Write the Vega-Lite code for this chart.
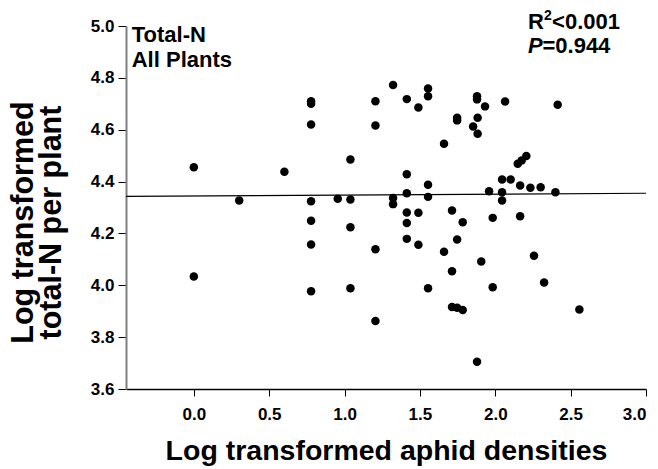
{
  "$schema": "https://vega.github.io/schema/vega-lite/v6.json",
  "width": 520,
  "height": 363,
  "autosize": {"type": "none"},
  "padding": {"left": 126, "top": 26, "right": 12, "bottom": 80},
  "background": "white",
  "config": {"view": {"stroke": null}, "font": "Liberation Sans"},
  "datasets": {
    "pts": [
      {"x": 0.000, "y": 4.455}, {"x": 0.000, "y": 4.034}, {"x": 0.301, "y": 4.327}, {"x": 0.601, "y": 4.438},
      {"x": 0.778, "y": 4.710}, {"x": 0.778, "y": 4.700}, {"x": 0.778, "y": 4.620}, {"x": 0.778, "y": 4.324},
      {"x": 0.778, "y": 4.249}, {"x": 0.778, "y": 4.157}, {"x": 0.778, "y": 3.977}, {"x": 0.955, "y": 4.334},
      {"x": 1.039, "y": 4.485}, {"x": 1.039, "y": 4.331}, {"x": 1.039, "y": 4.224}, {"x": 1.039, "y": 3.989},
      {"x": 1.205, "y": 4.710}, {"x": 1.205, "y": 4.616}, {"x": 1.205, "y": 4.139}, {"x": 1.205, "y": 3.862},
      {"x": 1.322, "y": 4.772}, {"x": 1.322, "y": 4.337}, {"x": 1.322, "y": 4.313}, {"x": 1.413, "y": 4.718},
      {"x": 1.413, "y": 4.428}, {"x": 1.413, "y": 4.355}, {"x": 1.413, "y": 4.281}, {"x": 1.413, "y": 4.240},
      {"x": 1.413, "y": 4.179}, {"x": 1.490, "y": 4.686}, {"x": 1.490, "y": 4.280}, {"x": 1.490, "y": 4.156},
      {"x": 1.554, "y": 4.759}, {"x": 1.554, "y": 4.729}, {"x": 1.554, "y": 4.388}, {"x": 1.554, "y": 4.341},
      {"x": 1.554, "y": 3.989}, {"x": 1.660, "y": 4.546}, {"x": 1.660, "y": 4.129}, {"x": 1.713, "y": 4.288},
      {"x": 1.713, "y": 4.054}, {"x": 1.713, "y": 3.916}, {"x": 1.747, "y": 4.646}, {"x": 1.747, "y": 4.636},
      {"x": 1.747, "y": 4.177}, {"x": 1.747, "y": 3.913}, {"x": 1.784, "y": 4.243}, {"x": 1.784, "y": 3.905},
      {"x": 1.853, "y": 4.612}, {"x": 1.879, "y": 4.729}, {"x": 1.879, "y": 4.717}, {"x": 1.883, "y": 4.646},
      {"x": 1.883, "y": 4.584}, {"x": 1.879, "y": 3.705}, {"x": 1.907, "y": 4.092}, {"x": 1.932, "y": 4.690},
      {"x": 1.959, "y": 4.363}, {"x": 1.983, "y": 4.260}, {"x": 1.983, "y": 3.992}, {"x": 2.045, "y": 4.408},
      {"x": 2.045, "y": 4.359}, {"x": 2.045, "y": 4.327}, {"x": 2.065, "y": 4.709}, {"x": 2.102, "y": 4.408},
      {"x": 2.149, "y": 4.469}, {"x": 2.165, "y": 4.385}, {"x": 2.165, "y": 4.266}, {"x": 2.175, "y": 4.481},
      {"x": 2.206, "y": 4.499}, {"x": 2.233, "y": 4.376}, {"x": 2.257, "y": 4.114}, {"x": 2.301, "y": 4.378},
      {"x": 2.324, "y": 4.011}, {"x": 2.399, "y": 4.359}, {"x": 2.414, "y": 4.696}, {"x": 2.558, "y": 3.907}
    ],
    "fit": [{"x": -0.45, "y": 4.343}, {"x": 3.0, "y": 4.355}],
    "big": [{"x": -0.412, "y": 4.939, "t": "Total-N"}, {"x": -0.412, "y": 4.843, "t": "All Plants"}],
    "stat": [{"x": 2.217, "y": 4.988, "t": "R"}, {"x": 2.377, "y": 4.988, "t": "<0.001"}, {"x": 2.313, "y": 4.896, "t": "=0.944"}],
    "sup": [{"x": 2.323, "y": 5.023, "t": "2"}],
    "ital": [{"x": 2.217, "y": 4.896, "t": "P"}]
  },
  "encoding": {
    "x": {
      "field": "x", "type": "quantitative",
      "scale": {"domain": [-0.45, 3.0], "nice": false, "zero": false},
      "axis": {
        "values": [0, 0.5, 1, 1.5, 2, 2.5, 3], "format": ".1f", "grid": false,
        "title": "Log transformed aphid densities",
        "titleFontSize": 28.5, "titleFontWeight": "bold", "titleColor": "black", "titlePadding": 14,
        "labelFontSize": 17, "labelFontWeight": "bold", "labelColor": "black", "labelPadding": 10,
        "tickColor": "black", "tickSize": 7, "domainColor": "black", "domainWidth": 1.5
      }
    },
    "y": {
      "field": "y", "type": "quantitative",
      "scale": {"domain": [3.6, 5.0], "nice": false, "zero": false},
      "axis": {
        "values": [3.6, 3.8, 4.0, 4.2, 4.4, 4.6, 4.8, 5.0], "format": ".1f", "grid": false,
        "title": ["Log transformed", "total-N per plant"],
        "titleFontSize": 30.5, "titleFontWeight": "bold", "titleColor": "black", "titleLineHeight": 28,
        "titleX": -88, "titleY": 196,
        "labelFontSize": 17, "labelFontWeight": "bold", "labelColor": "black", "labelPadding": 4,
        "tickColor": "black", "tickSize": 8, "domainColor": "#808080", "domainWidth": 2
      }
    }
  },
  "layer": [
    {"data": {"name": "fit"}, "mark": {"type": "line", "color": "black", "strokeWidth": 1.2}},
    {"data": {"name": "pts"}, "mark": {"type": "circle", "color": "black", "opacity": 1, "size": 72}},
    {"data": {"name": "big"}, "mark": {"type": "text", "align": "left", "baseline": "alphabetic", "fontSize": 22, "fontWeight": "bold", "color": "black"}, "encoding": {"text": {"field": "t"}}},
    {"data": {"name": "stat"}, "mark": {"type": "text", "align": "left", "baseline": "alphabetic", "fontSize": 22, "fontWeight": "bold", "color": "black"}, "encoding": {"text": {"field": "t"}}},
    {"data": {"name": "sup"}, "mark": {"type": "text", "align": "left", "baseline": "alphabetic", "fontSize": 14, "fontWeight": "bold", "color": "black"}, "encoding": {"text": {"field": "t"}}},
    {"data": {"name": "ital"}, "mark": {"type": "text", "align": "left", "baseline": "alphabetic", "fontSize": 22, "fontWeight": "bold", "fontStyle": "italic", "color": "black"}, "encoding": {"text": {"field": "t"}}}
  ]
}
